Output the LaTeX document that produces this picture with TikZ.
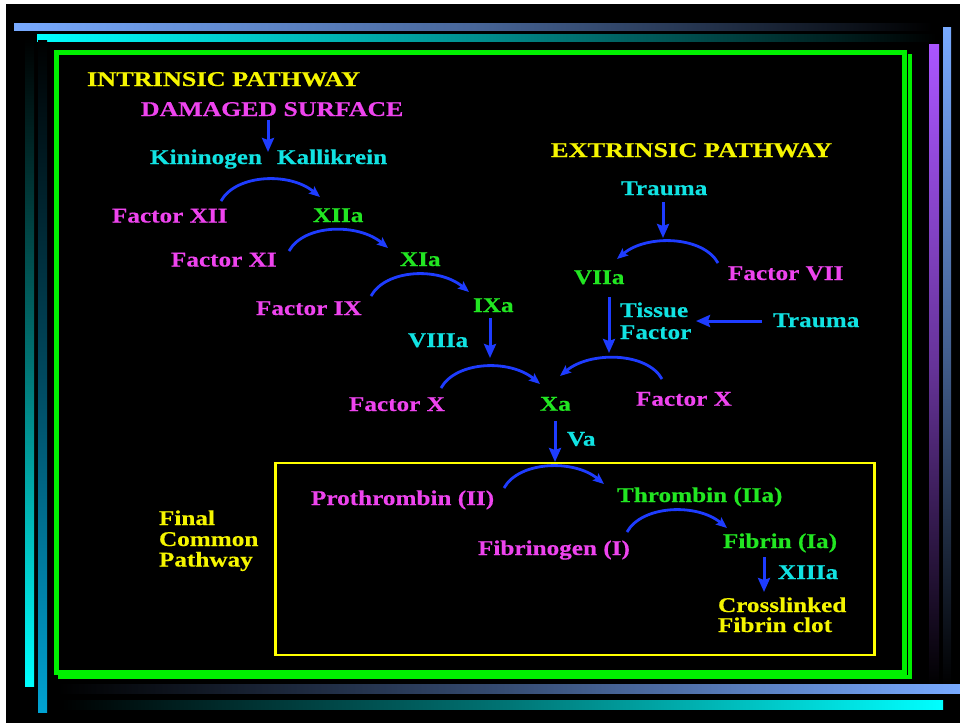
\documentclass[tikz,border=0pt]{standalone}
\usepackage{fontspec}
\setmainfont{Liberation Serif}[FakeStretch=1.2, BoldFeatures={FakeBold=0.4}]
\usetikzlibrary{arrows.meta,calc}
\definecolor{txtyellow}{HTML}{F5F500}
\definecolor{txtmag}{HTML}{EE44EE}
\definecolor{txtgreen}{HTML}{22E622}
\definecolor{txtcyan}{HTML}{11E2E2}
\definecolor{arrblue}{HTML}{1E3CFF}
\definecolor{barblue}{HTML}{78AAFF}
\definecolor{barcyan}{HTML}{00FFFF}
\definecolor{barteal}{HTML}{00A2D2}
\definecolor{barpurple}{HTML}{AA55FF}
\definecolor{framegreen}{HTML}{00F000}
\definecolor{boxyellow}{HTML}{FFFF00}
\begin{document}
\begin{tikzpicture}[x=1pt,y=-1pt,
  lbl/.style={anchor=base west, inner sep=0pt, outer sep=0pt,
              font=\fontsize{21}{21}\selectfont\bfseries},
  yel/.style={lbl, text=txtyellow},
  mag/.style={lbl, text=txtmag},
  grn/.style={lbl, text=txtgreen},
  cyn/.style={lbl, text=txtcyan},
  arr/.style={draw=arrblue, line width=3pt, -{Stealth[length=14pt,width=12pt,inset=2pt]}},
  carr/.style={draw=arrblue, line width=2.8pt, -{Stealth[length=11pt,width=9pt,inset=2pt]}}]

% page and background
\useasboundingbox (0,0) rectangle (960,723);
\fill[white] (0,0) rectangle (960,723);
\fill[black] (6,4) rectangle (960,723);

% decorative gradient bars
\shade[left color=barblue, right color=black, middle color=barblue!60!black] (14,23) rectangle (932,30);
\shade[left color=barcyan, right color=black, middle color=barcyan!55!black] (37,34) rectangle (936,41);
\shade[bottom color=barcyan, top color=black, middle color=barcyan!45!black] (25,38) rectangle (34,686);
\shade[bottom color=barteal, top color=black, middle color=barteal!45!black] (38,40) rectangle (47,712);
\shade[top color=barpurple, bottom color=black, middle color=barpurple!60!black] (929,44) rectangle (939,686);
\shade[top color=barblue, bottom color=black, middle color=barblue!55!black] (943,27) rectangle (951,686);
\shade[right color=barblue, left color=black, middle color=barblue!45!black] (58,684) rectangle (960,693);
\shade[right color=barcyan, left color=black, middle color=barcyan!45!black] (58,700) rectangle (943,709);

% green frame with its offset shadow
\draw[framegreen, line width=4.2pt] (58,677) -- (909.7,677) -- (909.7,54);
\draw[framegreen, line width=5pt] (56.6,52.5) rectangle (904.5,672.8);

% final common pathway box
\draw[boxyellow, line width=2.7pt] (275.7,463) rectangle (874.5,655);

% intrinsic pathway
\node[yel] (intr) at (87,86) {\scalebox{1.042}[1]{INTRINSIC PATHWAY}};
\node[mag] (dmg) at (141,116) {\scalebox{1.023}[1]{DAMAGED SURFACE}};
\node[cyn] (kin) at (150,164) {Kininogen};
\node[cyn] (kal) at (277,164) {Kallikrein};
\node[mag] (f12) at (112,222.5) {Factor XII};
\node[grn] (x12a) at (313,222) {XIIa};
\node[mag] (f11) at (171,266.5) {Factor XI};
\node[grn] (x11a) at (400,266) {XIa};
\node[mag] (f9) at (256,315) {Factor IX};
\node[grn] (x9a) at (473,312) {IXa};
\node[cyn] (v8a) at (408,347) {VIIIa};
\node[mag] (f10l) at (349,411) {Factor X};
\node[grn] (xa) at (540,410.7) {Xa};
\node[cyn] (va) at (567,445.7) {Va};

% extrinsic pathway
\node[yel] (extr) at (551,157) {\scalebox{1.045}[1]{EXTRINSIC PATHWAY}};
\node[cyn] (tr1) at (621,195) {Trauma};
\node[grn] (v7a) at (574,284) {VIIa};
\node[mag] (f7) at (728,280) {Factor VII};
\node[cyn] (tf1) at (620,317) {Tissue};
\node[cyn] (tf2) at (620,339) {Factor};
\node[cyn] (tr2) at (773,327) {Trauma};
\node[mag] (f10r) at (636,405.7) {Factor X};

% final common pathway
\node[yel] (fcp1) at (159,525) {Final};
\node[yel] (fcp2) at (159,546) {Common};
\node[yel] (fcp3) at (159,566.5) {Pathway};
\node[mag] (pro) at (311,505) {Prothrombin (II)};
\node[grn] (thr) at (617,502) {Thrombin (IIa)};
\node[mag] (fbg) at (478,555) {Fibrinogen (I)};
\node[grn] (fib) at (723,548) {Fibrin (Ia)};
\node[cyn] (x13a) at (778,579) {XIIIa};
\node[yel] (cl1) at (718,612) {Crosslinked};
\node[yel] (cl2) at (718,632) {Fibrin clot};

% straight arrow ends
\coordinate (dmgB) at (268,120);  \coordinate (kinT) at (268,152);
\coordinate (tr1B) at (663,202);  \coordinate (arcT) at (663,238);
\coordinate (v7aB) at (609,297);  \coordinate (xarcT) at (609,353);
\coordinate (tr2W) at (762,321);  \coordinate (tfE) at (696,321);
\coordinate (v8aE) at (490,318);  \coordinate (xlarcT) at (490,358);
\coordinate (xaB) at (555,421);   \coordinate (boxT) at (555,462);
\coordinate (fibB) at (764,557);  \coordinate (clT) at (764,592);

\draw[arr] (dmgB) -- (kinT);
\draw[arr] (tr1B) -- (arcT);
\draw[arr] (v7aB) -- (xarcT);
\draw[arr] (tr2W) -- (tfE);
\draw[arr] (v8aE) -- (xlarcT);
\draw[arr] (xaB) -- (boxT);
\draw[arr] (fibB) -- (clT);

% conversion arcs: start, end
\coordinate (s12) at (221,201);  \coordinate (e12) at (320,197);
\coordinate (s11) at (289,251);  \coordinate (e11) at (388,248);
\coordinate (s9)  at (371,296);  \coordinate (e9)  at (469,292);
\coordinate (s10l) at (441,388); \coordinate (e10l) at (540,384);
\coordinate (s10r) at (662,379); \coordinate (e10r) at (560,376);
\coordinate (s7)  at (718,263);  \coordinate (e7)  at (617,259);
\coordinate (spro) at (504,488); \coordinate (epro) at (604,484);
\coordinate (sfbg) at (627,532); \coordinate (efbg) at (727,528);

\foreach \s/\e in {s12/e12, s11/e11, s9/e9, s10l/e10l, spro/epro, sfbg/efbg}
  \draw[carr] (\s) .. controls ($(\s)+(15,-27)$) and ($(\e)+(-30,-25)$) .. (\e);
\foreach \s/\e in {s10r/e10r, s7/e7}
  \draw[carr] (\s) .. controls ($(\s)+(-15,-27)$) and ($(\e)+(30,-25)$) .. (\e);
\end{tikzpicture}
\end{document}
